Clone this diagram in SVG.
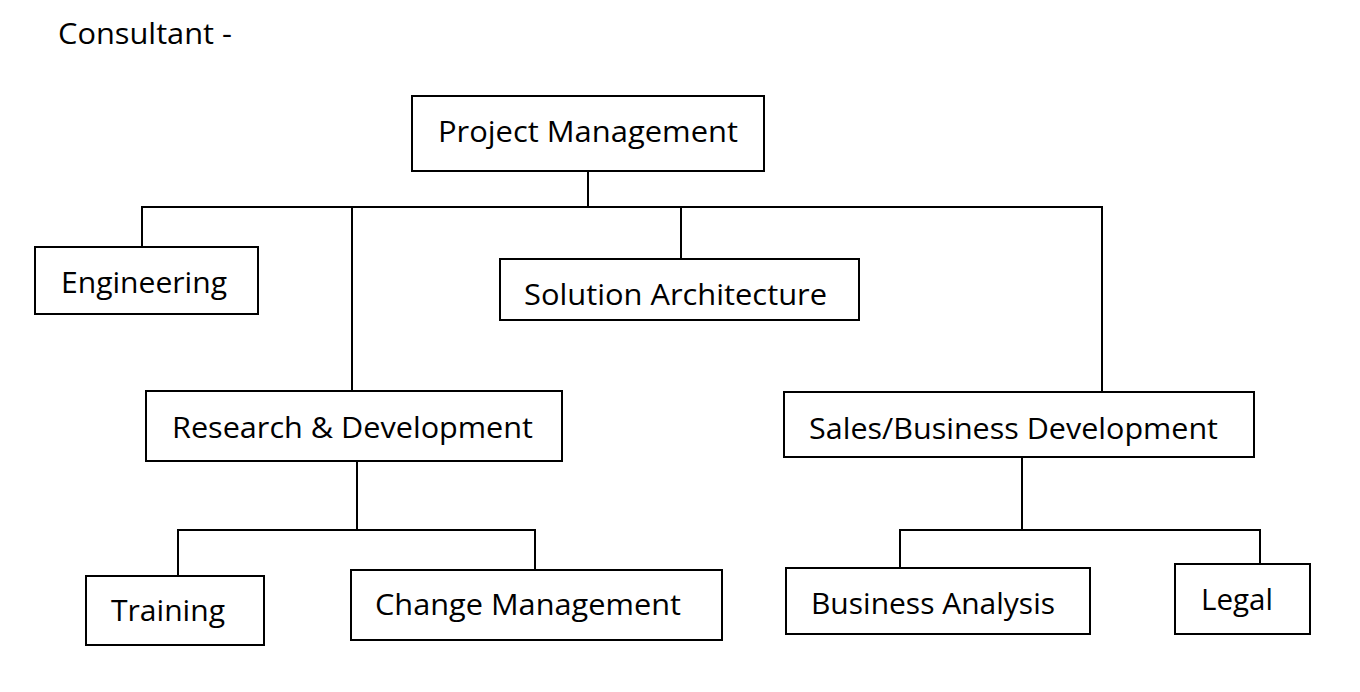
<svg xmlns="http://www.w3.org/2000/svg" width="1360" height="692" viewBox="0 0 1360 692">
<style>
.box{fill:#fff;stroke:#000;stroke-width:2}
.lbl{font-family:"Open Sans","Noto Sans","DejaVu Sans",sans-serif;font-size:30px;fill:#000}
.c{fill:none;stroke:#000;stroke-width:2}
</style>
<rect width="1360" height="692" fill="#fff"/>
<text class="lbl" x="58" y="44" textLength="174" lengthAdjust="spacingAndGlyphs">Consultant -</text>
<g id="connectors">
<path class="c" d="M588 171V207M142 247V207H1102V391M352 207V391M681 207V259"/>
<path class="c" d="M357 461V530M178 576V530H535V570"/>
<path class="c" d="M1022 457V530M900 568V530H1260V564"/>
</g>
<g id="pm"><rect class="box" x="412" y="96" width="352" height="75"/><text class="lbl" x="438" y="142" textLength="300" lengthAdjust="spacingAndGlyphs">Project Management</text></g>
<g id="eng"><rect class="box" x="35" y="247" width="223" height="67"/><text class="lbl" x="61" y="293" textLength="166" lengthAdjust="spacingAndGlyphs">Engineering</text></g>
<g id="sa"><rect class="box" x="500" y="259" width="359" height="61"/><text class="lbl" x="524" y="305" textLength="303" lengthAdjust="spacingAndGlyphs">Solution Architecture</text></g>
<g id="rd"><rect class="box" x="146" y="391" width="416" height="70"/><text class="lbl" x="172" y="438" textLength="361" lengthAdjust="spacingAndGlyphs">Research &amp; Development</text></g>
<g id="sales"><rect class="box" x="784" y="392" width="470" height="65"/><text class="lbl" x="809" y="439" textLength="409" lengthAdjust="spacingAndGlyphs">Sales/Business Development</text></g>
<g id="training"><rect class="box" x="86" y="576" width="178" height="69"/><text class="lbl" x="111" y="621" textLength="114" lengthAdjust="spacingAndGlyphs">Training</text></g>
<g id="cm"><rect class="box" x="351" y="570" width="371" height="70"/><text class="lbl" x="375" y="615" textLength="306" lengthAdjust="spacingAndGlyphs">Change Management</text></g>
<g id="ba"><rect class="box" x="786" y="568" width="304" height="66"/><text class="lbl" x="811" y="614" textLength="244" lengthAdjust="spacingAndGlyphs">Business Analysis</text></g>
<g id="legal"><rect class="box" x="1175" y="564" width="135" height="70"/><text class="lbl" x="1201" y="610" textLength="72" lengthAdjust="spacingAndGlyphs">Legal</text></g>
</svg>
